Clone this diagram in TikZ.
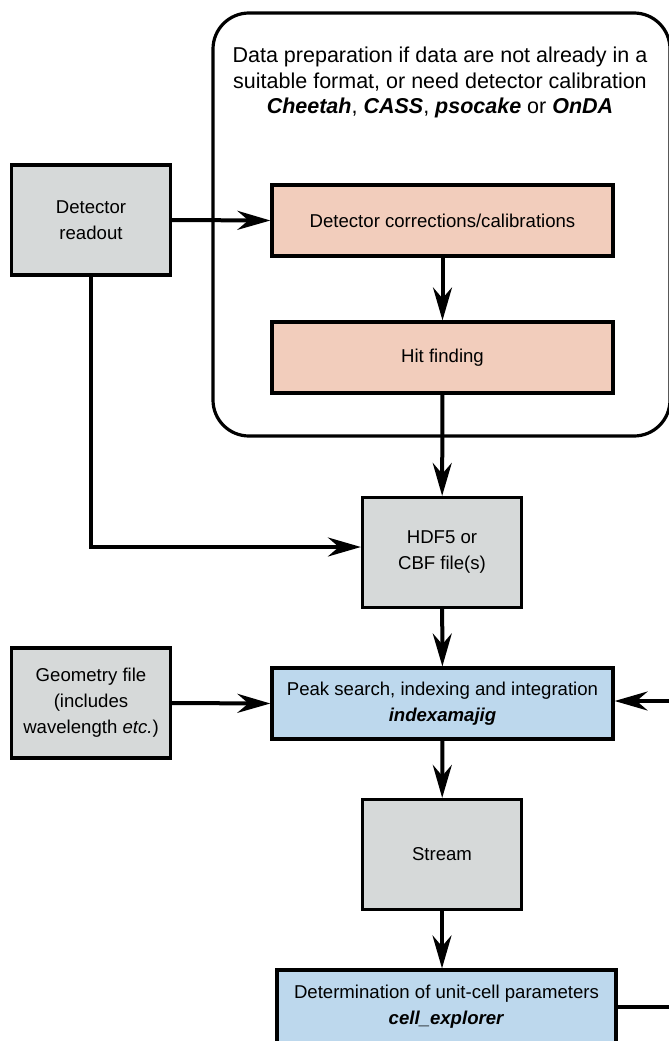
\documentclass[tikz,border=0pt]{standalone}
\usepackage{fontspec}
\setmainfont{Liberation Sans}
\usetikzlibrary{arrows.meta,positioning}

\definecolor{boxgrey}{HTML}{D6D9D9}
\definecolor{boxpink}{HTML}{F2CDBC}
\definecolor{boxblue}{HTML}{BDD8ED}

\tikzset{
  boxbase/.style={draw=black, line width=3.2pt, rectangle, inner sep=0pt,
    align=center, font=\fontsize{18.6}{26}\selectfont},
  greybox/.style={boxbase, fill=boxgrey, minimum width=159pt, minimum height=110pt},
  pinkbox/.style={boxbase, fill=boxpink, minimum width=341pt, minimum height=71pt},
  bluebox/.style={boxbase, fill=boxblue, minimum width=341pt, minimum height=71pt},
  framebox/.style={draw=black, line width=3.2pt, rounded corners=36pt, inner sep=0pt},
  flow/.style={line width=4pt, -{Stealth[length=33pt, width=19pt, inset=11pt]}},
  link/.style={line width=4pt},
}

\begin{document}
\begin{tikzpicture}[x=1pt, y=-1pt]
  \useasboundingbox (0,0) rectangle (669,1041);
  \fill[white] (0,0) rectangle (669,1041);

  % data preparation frame
  \node[framebox, minimum width=457pt, minimum height=423pt] (prep) at (441.5,224.5) {};
  \node[align=center, font=\fontsize{21.5}{25.5}\selectfont] (preptext) at (440,82.5)
    {Data preparation if data are not already in a\\
     suitable format, or need detector calibration\\
     \textbf{\textit{Cheetah}}, \textbf{\textit{CASS}}, \textbf{\textit{psocake}} or \textbf{\textit{OnDA}}};

  % boxes
  \node[greybox] (readout) at (91,220) {Detector\\readout};
  \node[pinkbox] (corr) at (442.5,220.5) {Detector corrections/calibrations};
  \node[pinkbox] (hit) at (442.5,357.5) {Hit finding};
  \node[greybox] (hdf) at (442,552.5) {HDF5 or\\CBF file(s)};
  \node[greybox] (geom) at (91,703) {Geometry file\\(includes\\wavelength \textit{etc.})};
  \node[bluebox] (index) at (442.5,703.5) {Peak search, indexing and integration\\\textbf{\textit{indexamajig}}};
  \node[greybox] (stream) at (442,854.5) {Stream};
  \node[bluebox, minimum width=339pt, minimum height=74pt] (cell) at (446.5,1007)
    {Determination of unit-cell parameters\\\textbf{\textit{cell\_explorer}}};

  % loose ends at the right margin
  \coordinate (feedin) at (672,701);
  \coordinate (feedout) at (672,1007);

  % connectors
  \draw[flow] (readout.east) -- (corr.west);
  \draw[flow] (corr) -- (hit);
  \draw[flow] (hit) -- (hdf);
  \draw[flow] (readout.south) |- ([yshift=5.5pt]hdf.west);
  \draw[flow] (hdf) -- (index);
  \draw[flow] (geom.east) -- (index.west);
  \draw[flow] (feedin) -- (feedin -| index.east);
  \draw[flow] (index) -- (stream);
  \draw[flow] (stream.south) -- (stream.south |- cell.north);
  \draw[link] (cell.east) -- (feedout);
\end{tikzpicture}
\end{document}
